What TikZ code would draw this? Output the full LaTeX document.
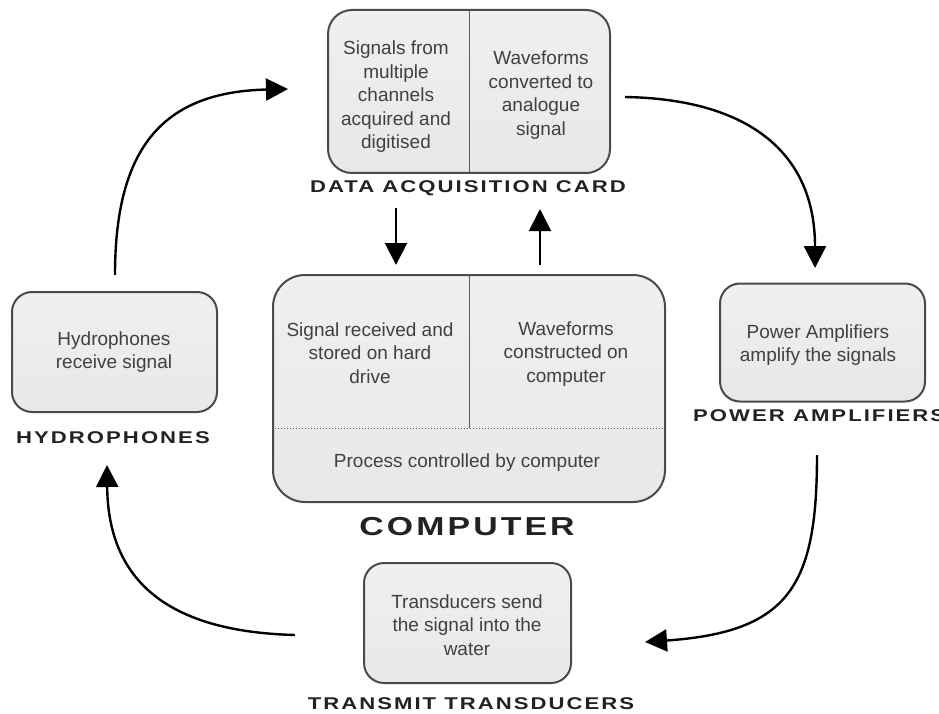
\documentclass[tikz,border=0pt]{standalone}
\usepackage{fontspec}
\setmainfont{Liberation Sans}
\newfontfamily\lblfont[FakeStretch=1.3,LetterSpace=12]{Liberation Sans}
\usetikzlibrary{arrows.meta}
\definecolor{boxedge}{HTML}{4A4A4A}
\definecolor{boxtext}{HTML}{404040}
\definecolor{lbltext}{HTML}{222222}
\begin{document}
\begin{tikzpicture}[x=1pt,y=-1pt,
  box/.style={draw=boxedge, line width=2pt, inner sep=0pt,
    top color=gray!12, middle color=gray!3, bottom color=gray!18},
  btext/.style={align=center, text=boxtext, inner sep=0pt,
    font=\fontsize{19}{23.5}\selectfont},
  lbl/.style={text=lbltext, inner sep=0pt, font=\lblfont\bfseries\fontsize{17}{20}\selectfont},
  divider/.style={draw=gray!70!black, line width=0.8pt},
  arr/.style={line width=2.4pt, -{Triangle[length=22pt,width=22pt]}},
  varr/.style={line width=2pt, -{Triangle[length=22pt,width=22pt]}}
]
\useasboundingbox (0,0) rectangle (939,714);
\fill[white] (0,0) rectangle (939,714);

% Data acquisition card
\node[box, rounded corners=24pt, minimum width=282pt, minimum height=163pt] (daq) at (469,91.5) {};
\draw[divider] (daq.north) -- (daq.south);
\node[btext] (daqa) at (396,97) {Signals from\\multiple\\channels\\acquired and\\digitised};
\node[btext] (daqb) at (541,95) {Waveforms\\converted to\\analogue\\signal};
\node[lbl] (daql) at (468,188) {DATA ACQUISITION CARD};

% Computer
\node[box, rounded corners=32pt, minimum width=392pt, minimum height=227pt] (comp) at (469,388.5) {};
\coordinate (divy) at (0,428);
\draw[divider] (comp.north) -- (comp.north |- divy);
\draw[draw=gray!70!black, line width=1pt, dotted] (comp.west |- divy) -- (comp.east |- divy);
\node[btext] (compa) at (370,353) {Signal received and\\stored on hard\\drive};
\node[btext] (compb) at (566,354) {Waveforms\\constructed on\\computer};
\node[btext] (compc) at (467,463) {Process controlled by computer};
\node[lbl, font=\lblfont\bfseries\fontsize{26}{30}\selectfont] (compl) at (467,527) {COMPUTER};

% Hydrophones
\node[box, rounded corners=20pt, minimum width=205pt, minimum height=120pt] (hyd) at (114.5,352) {};
\node[btext] (hydt) at (114,352) {Hydrophones\\receive signal};
\node[lbl] (hydl) at (113,438) {HYDROPHONES};

% Power amplifiers
\node[box, rounded corners=20pt, minimum width=205pt, minimum height=118pt] (pow) at (822.5,342.5) {};
\node[btext] (powt) at (818,345) {Power Amplifiers\\amplify the signals};
\node[lbl, anchor=west] (powl) at (693,416) {POWER AMPLIFIERS};

% Transmit transducers
\node[box, rounded corners=20pt, minimum width=207pt, minimum height=120pt] (tra) at (467.5,623) {};
\node[btext] (trat) at (467,625) {Transducers send\\the signal into the\\water};
\node[lbl] (tral) at (471,704) {TRANSMIT TRANSDUCERS};

% free ends of the connectors
\coordinate (a1s) at (115,275);
\coordinate (a1e) at (288,89);
\coordinate (a2s) at (625,97);
\coordinate (a2e) at (815,268);
\coordinate (a3s) at (817,455);
\coordinate (a3e) at (645,642);
\coordinate (a4s) at (295,635);
\coordinate (a4e) at (107,465);
\coordinate (dns) at (396,208);
\coordinate (dne) at (396,265);
\coordinate (ups) at (540,265);
\coordinate (upe) at (540,209);

\draw[arr] (a1s) .. controls (115,145) and (165,92) .. (a1e);
\draw[arr] (a2s) .. controls (745,99) and (815,150) .. (a2e);
\draw[arr] (a3s) .. controls (817,585) and (790,632) .. (a3e);
\draw[arr] (a4s) .. controls (180,632) and (108,590) .. (a4e);
\draw[varr] (dns) -- (dne);
\draw[varr] (ups) -- (upe);
\end{tikzpicture}
\end{document}
